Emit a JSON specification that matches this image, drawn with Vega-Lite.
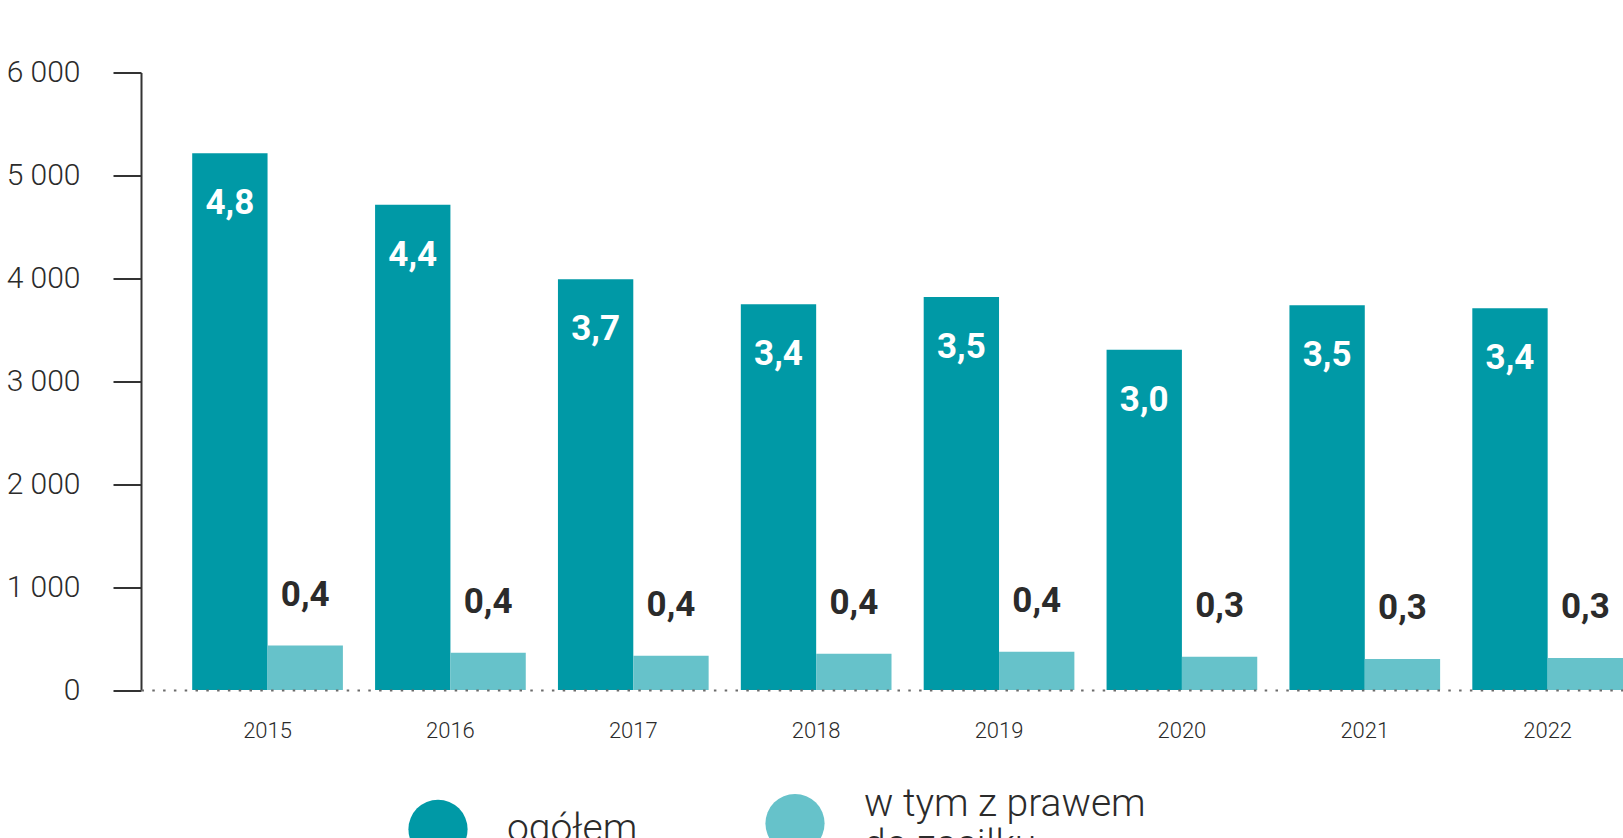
{
  "$schema": "https://vega.github.io/schema/vega-lite/v6.json",
  "width": 1482,
  "height": 617.5,
  "autosize": {"type": "none"},
  "padding": {"left": 141, "top": 72.5, "right": 0, "bottom": 148},
  "background": "white",
  "config": {"view": {"stroke": null}, "font": "Roboto"},
  "data": {
    "values": [
      {"rok": "2015", "seria": "ogółem", "wartosc": 5216, "etykieta": "4,8"},
      {"rok": "2015", "seria": "w tym z prawem do zasiłku", "wartosc": 432, "etykieta": "0,4"},
      {"rok": "2016", "seria": "ogółem", "wartosc": 4714, "etykieta": "4,4"},
      {"rok": "2016", "seria": "w tym z prawem do zasiłku", "wartosc": 362, "etykieta": "0,4"},
      {"rok": "2017", "seria": "ogółem", "wartosc": 3990, "etykieta": "3,7"},
      {"rok": "2017", "seria": "w tym z prawem do zasiłku", "wartosc": 332, "etykieta": "0,4"},
      {"rok": "2018", "seria": "ogółem", "wartosc": 3749, "etykieta": "3,4"},
      {"rok": "2018", "seria": "w tym z prawem do zasiłku", "wartosc": 352, "etykieta": "0,4"},
      {"rok": "2019", "seria": "ogółem", "wartosc": 3819, "etykieta": "3,5"},
      {"rok": "2019", "seria": "w tym z prawem do zasiłku", "wartosc": 372, "etykieta": "0,4"},
      {"rok": "2020", "seria": "ogółem", "wartosc": 3307, "etykieta": "3,0"},
      {"rok": "2020", "seria": "w tym z prawem do zasiłku", "wartosc": 322, "etykieta": "0,3"},
      {"rok": "2021", "seria": "ogółem", "wartosc": 3739, "etykieta": "3,5"},
      {"rok": "2021", "seria": "w tym z prawem do zasiłku", "wartosc": 302, "etykieta": "0,3"},
      {"rok": "2022", "seria": "ogółem", "wartosc": 3709, "etykieta": "3,4"},
      {"rok": "2022", "seria": "w tym z prawem do zasiłku", "wartosc": 312, "etykieta": "0,3"}
    ]
  },
  "encoding": {
    "x": {
      "field": "rok",
      "type": "nominal",
      "scale": {"paddingInner": 0.176, "paddingOuter": 0.14, "align": 1},
      "axis": {
        "title": null,
        "labelAngle": 0,
        "ticks": false,
        "labelPadding": 30,
        "labelFontSize": 22,
        "labelFontWeight": 300,
        "labelColor": "#2b2b2b",
        "domainColor": "#6b6b6b",
        "domainWidth": 2,
        "domainDash": [2.5, 8.3],
        "zindex": 1
      }
    },
    "xOffset": {
      "field": "seria",
      "type": "nominal",
      "scale": {"domain": ["ogółem", "w tym z prawem do zasiłku"], "paddingInner": 0, "paddingOuter": 0}
    },
    "y": {
      "field": "wartosc",
      "type": "quantitative",
      "scale": {"domain": [0, 6000], "nice": false},
      "axis": {
        "title": null,
        "grid": false,
        "values": [0, 1000, 2000, 3000, 4000, 5000, 6000],
        "labelExpr": "replace(format(datum.value, ','), ',', ' ')",
        "tickSize": 28,
        "tickWidth": 2,
        "tickColor": "#333333",
        "domainColor": "#333333",
        "domainWidth": 2,
        "labelPadding": 33,
        "labelFontSize": 30,
        "labelFontWeight": 300,
        "labelColor": "#2b2b2b"
      }
    }
  },
  "layer": [
    {
      "mark": {"type": "bar"},
      "encoding": {
        "color": {
          "field": "seria",
          "type": "nominal",
          "scale": {"domain": ["ogółem", "w tym z prawem do zasiłku"], "range": ["#0099a6", "#66c2ca"]},
          "legend": {
            "title": null,
            "orient": "none",
            "legendX": 267,
            "legendY": 721,
            "direction": "horizontal",
            "symbolType": "circle",
            "symbolSize": 3500,
            "symbolStrokeWidth": 0,
            "symbolOpacity": 1,
            "labelFontSize": 39,
            "labelFontWeight": 300,
            "labelColor": "#2b2b2b",
            "labelOffset": 39,
            "labelLimit": 0,
            "columnPadding": 127,
            "labelBaseline": {"expr": "datum.label == 'ogółem' ? 'middle' : 'bottom'"},
            "labelExpr": "datum.label == 'ogółem' ? datum.label : ['w tym z prawem', 'do zasiłku']"
          }
        }
      }
    },
    {
      "transform": [{"filter": "datum.seria == 'ogółem'"}],
      "mark": {"type": "text", "baseline": "middle", "dy": 50, "color": "white", "fontWeight": "bold", "fontSize": 35},
      "encoding": {"text": {"field": "etykieta"}}
    },
    {
      "transform": [{"filter": "datum.seria != 'ogółem'"}],
      "mark": {"type": "text", "baseline": "middle", "dy": -51, "color": "#2b2b2b", "fontWeight": "bold", "fontSize": 35},
      "encoding": {"text": {"field": "etykieta"}}
    }
  ]
}
